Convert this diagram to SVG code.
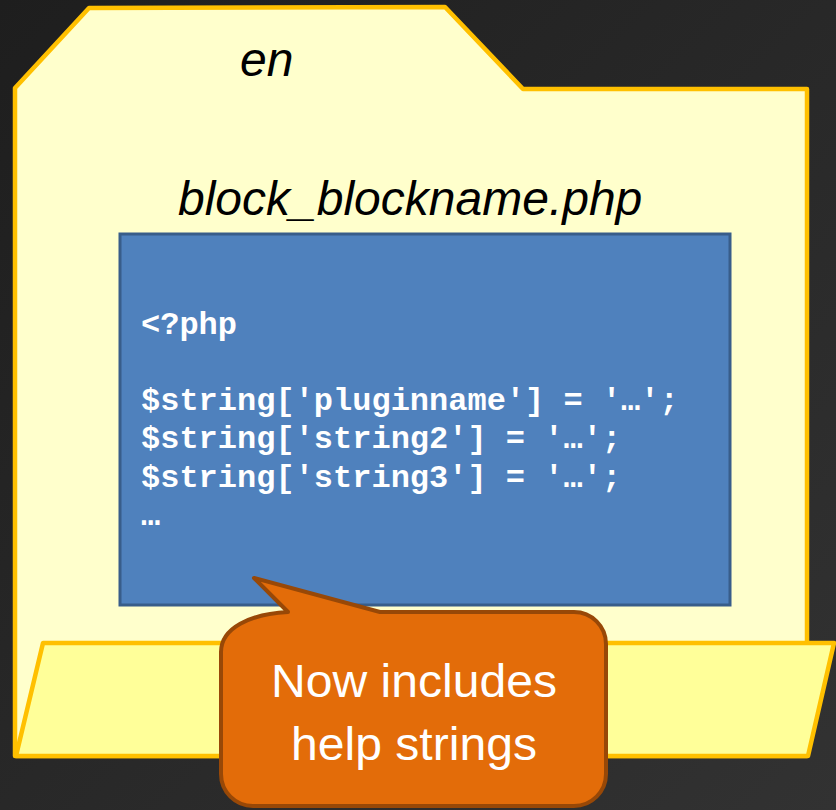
<svg xmlns="http://www.w3.org/2000/svg" width="836" height="810" viewBox="0 0 836 810">
<defs>
<linearGradient id="bg" x1="0" y1="0" x2="1" y2="1">
<stop offset="0" stop-color="#1e1e1e"/>
<stop offset="1" stop-color="#323232"/>
</linearGradient>
<style>
.fold{stroke:#FFC000;stroke-width:4.5;stroke-linejoin:round}
.lbl{font-family:"Liberation Sans",Arial,sans-serif;font-style:italic;font-size:48px;fill:#000}
.code{font-family:"Liberation Mono","Courier New",monospace;font-weight:bold;font-size:32px;fill:#fff}
.call{font-family:"Liberation Sans",Arial,sans-serif;font-size:46px;fill:#fff}
</style>
</defs>
<rect width="836" height="810" fill="url(#bg)"/>
<g id="folder-back">
<path class="fold" fill="#FFFFCC" d="M15,88 L89,8 L445,7 L523,89 L807,89 L807,756 L15,756 Z"/>
<text class="lbl" x="240" y="76">en</text>
</g>
<g id="file">
<text class="lbl" x="178" y="215">block_blockname.php</text>
<rect x="120" y="234" width="610" height="371" fill="#4F81BD" stroke="#385D8A" stroke-width="3"/>
<text class="code" x="141" y="334">&lt;?php</text>
<text class="code" x="141" y="410">$string['pluginname'] = '…';</text>
<text class="code" x="141" y="448">$string['string2'] = '…';</text>
<text class="code" x="141" y="487">$string['string3'] = '…';</text>
<text class="code" x="141" y="525">…</text>
</g>
<g id="folder-front">
<path class="fold" fill="#FFFF99" d="M43,643 L834,643 L808,756 L16,756 Z"/>
</g>
<g id="callout">
<path fill="#E36C09" stroke="#984807" stroke-width="4" stroke-linejoin="round" d="M254,578 L380,612 L574,612 A32,32 0 0 1 606,644 L606,774 A32,32 0 0 1 574,806 L253,806 A32,32 0 0 1 221,774 L221,652 C221,628 250,614 288,612 Z"/>
<text class="call" x="271" y="697" textLength="286" lengthAdjust="spacingAndGlyphs">Now includes</text>
<text class="call" x="291" y="760" textLength="246" lengthAdjust="spacingAndGlyphs">help strings</text>
</g>
</svg>
